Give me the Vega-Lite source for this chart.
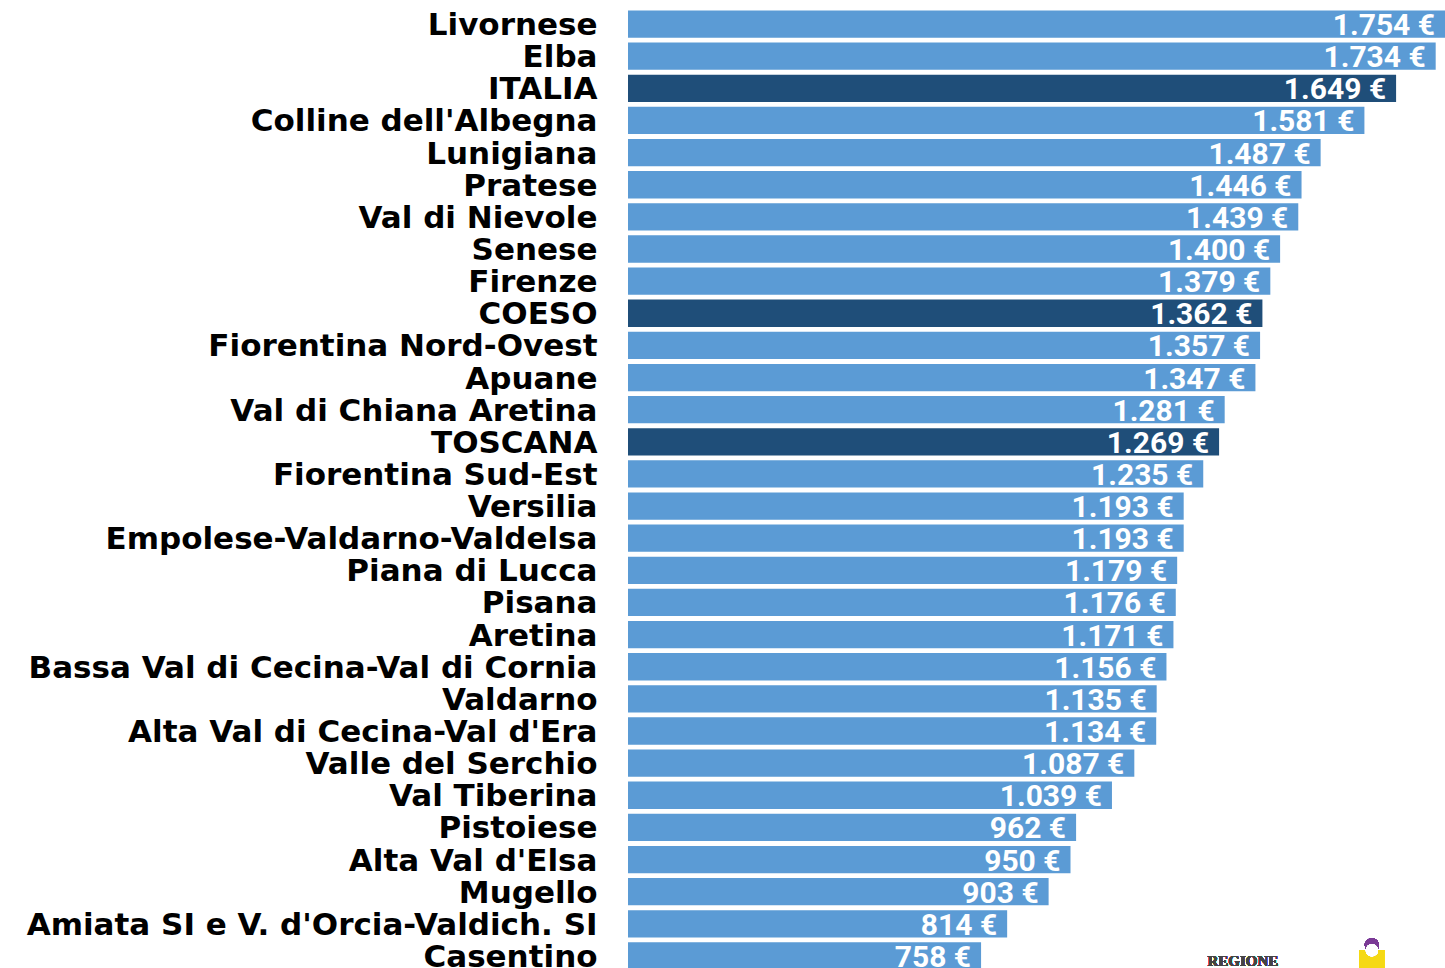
{
  "$schema": "https://vega.github.io/schema/vega-lite/v6.json",
  "autosize": "none",
  "width": 817,
  "height": 964,
  "padding": {"left": 628, "top": 8, "right": 0, "bottom": 0},
  "background": "white",
  "config": {"view": {"stroke": null}},
  "data": {"values": [
    {"zona": "Livornese", "valore": 1754, "tipo": "zona"},
    {"zona": "Elba", "valore": 1734, "tipo": "zona"},
    {"zona": "ITALIA", "valore": 1649, "tipo": "totale"},
    {"zona": "Colline dell'Albegna", "valore": 1581, "tipo": "zona"},
    {"zona": "Lunigiana", "valore": 1487, "tipo": "zona"},
    {"zona": "Pratese", "valore": 1446, "tipo": "zona"},
    {"zona": "Val di Nievole", "valore": 1439, "tipo": "zona"},
    {"zona": "Senese", "valore": 1400, "tipo": "zona"},
    {"zona": "Firenze", "valore": 1379, "tipo": "zona"},
    {"zona": "COESO", "valore": 1362, "tipo": "totale"},
    {"zona": "Fiorentina Nord-Ovest", "valore": 1357, "tipo": "zona"},
    {"zona": "Apuane", "valore": 1347, "tipo": "zona"},
    {"zona": "Val di Chiana Aretina", "valore": 1281, "tipo": "zona"},
    {"zona": "TOSCANA", "valore": 1269, "tipo": "totale"},
    {"zona": "Fiorentina Sud-Est", "valore": 1235, "tipo": "zona"},
    {"zona": "Versilia", "valore": 1193, "tipo": "zona"},
    {"zona": "Empolese-Valdarno-Valdelsa", "valore": 1193, "tipo": "zona"},
    {"zona": "Piana di Lucca", "valore": 1179, "tipo": "zona"},
    {"zona": "Pisana", "valore": 1176, "tipo": "zona"},
    {"zona": "Aretina", "valore": 1171, "tipo": "zona"},
    {"zona": "Bassa Val di Cecina-Val di Cornia", "valore": 1156, "tipo": "zona"},
    {"zona": "Valdarno", "valore": 1135, "tipo": "zona"},
    {"zona": "Alta Val di Cecina-Val d'Era", "valore": 1134, "tipo": "zona"},
    {"zona": "Valle del Serchio", "valore": 1087, "tipo": "zona"},
    {"zona": "Val Tiberina", "valore": 1039, "tipo": "zona"},
    {"zona": "Pistoiese", "valore": 962, "tipo": "zona"},
    {"zona": "Alta Val d'Elsa", "valore": 950, "tipo": "zona"},
    {"zona": "Mugello", "valore": 903, "tipo": "zona"},
    {"zona": "Amiata SI e V. d'Orcia-Valdich. SI", "valore": 814, "tipo": "zona"},
    {"zona": "Casentino", "valore": 758, "tipo": "zona"}
  ]},
  "transform": [
    {"calculate": "replace(format(datum.valore, ',d'), ',', '.') + ' €'", "as": "etichetta"}
  ],
  "encoding": {
    "y": {
      "field": "zona", "type": "nominal", "sort": null,
      "scale": {"paddingInner": 0.15, "paddingOuter": 0.075},
      "axis": {
        "title": null, "domain": false, "ticks": false, "labelPadding": 31, "labelOffset": 2,
        "labelFont": "DejaVu Sans", "labelFontWeight": "bold", "labelFontSize": 31,
        "labelColor": "#000000", "labelLimit": 700
      }
    },
    "x": {
      "field": "valore", "type": "quantitative",
      "scale": {"domain": [0, 1754], "nice": false, "zero": true},
      "axis": null
    }
  },
  "layer": [
    {
      "mark": {"type": "bar"},
      "encoding": {
        "color": {
          "field": "tipo", "type": "nominal",
          "scale": {"domain": ["zona", "totale"], "range": ["#5b9bd5", "#1f4e79"]},
          "legend": null
        }
      }
    },
    {
      "mark": {"type": "text", "align": "right", "baseline": "middle", "dx": -10, "dy": 2,
               "font": "Roboto", "fontWeight": "bold", "fontSize": 30, "color": "white"},
      "encoding": {"text": {"field": "etichetta"}}
    },
    {
      "mark": {"type": "text", "align": "center", "baseline": "middle", "dy": 5,
               "font": "Liberation Serif", "fontWeight": "bold", "fontSize": 15, "color": "#444444"},
      "encoding": {
        "x": {"datum": 1320},
        "y": {"datum": "Casentino"},
        "text": {"value": "REGIONE"}
      }
    },
    {
      "mark": {"type": "point", "shape": "square", "filled": true, "size": 600, "color": "#f5d915", "opacity": 1},
      "encoding": {
        "x": {"datum": 1597},
        "y": {"datum": "Casentino"},
        "yOffset": {"value": 20}
      }
    },
    {
      "mark": {"type": "point", "shape": "circle", "filled": true, "size": 200, "color": "#7b3a96", "opacity": 1},
      "encoding": {
        "x": {"datum": 1597},
        "y": {"datum": "Casentino"},
        "yOffset": {"value": 3}
      }
    },
    {
      "mark": {"type": "point", "shape": "circle", "filled": true, "size": 150, "color": "white", "opacity": 1},
      "encoding": {
        "x": {"datum": 1597},
        "y": {"datum": "Casentino"},
        "yOffset": {"value": 8}
      }
    }
  ]
}
